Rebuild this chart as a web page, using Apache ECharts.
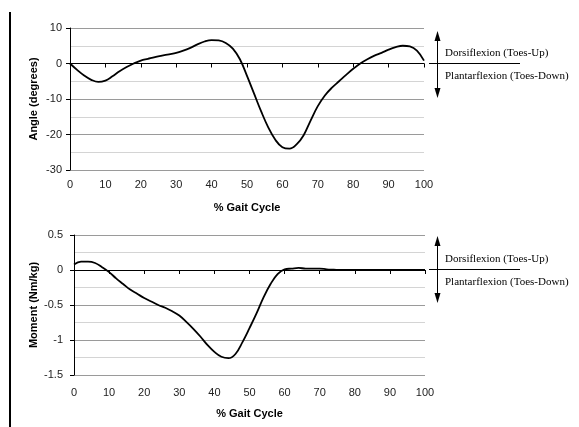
<!DOCTYPE html>
<html>
<head>
<meta charset="utf-8">
<script src="https://cdn.jsdelivr.net/npm/echarts@6/dist/echarts.min.js"></script>
<style>
  html, body { margin: 0; padding: 0; background: #fff; }
  #main { width: 579px; height: 427px; }
</style>
</head>
<body>
<div id="main"></div>
<script>
// % gait cycle, every 2%
var gaitPct = [0, 2, 4, 6, 8, 10, 12, 14, 16, 18, 20, 22, 24, 26, 28, 30, 32, 34, 36, 38, 40,
  42, 44, 46, 48, 50, 52, 54, 56, 58, 60, 62, 64, 66, 68, 70, 72, 74, 76, 78, 80,
  82, 84, 86, 88, 90, 92, 94, 96, 98, 100]
// ankle angle (degrees)
var ankleAngle = [0, -1.8, -3.4, -4.6, -5.2, -4.8, -3.6, -2.2, -1.0, 0.0, 0.8, 1.3, 1.8, 2.2, 2.6, 3.0, 3.6, 4.4, 5.4, 6.2, 6.6,
  6.5, 5.8, 4.2, 1.2, -3.5, -8.5, -13.5, -18.0, -21.5, -23.6, -24.0, -22.8, -20.2, -16.0, -12.0, -9.0, -6.8, -5.0, -3.2, -1.5,
  0.0, 1.2, 2.2, 3.0, 3.9, 4.6, 5.0, 4.8, 3.6, 0.8]
// ankle moment (Nm/kg)
var ankleMoment = [0.08, 0.12, 0.12, 0.10, 0.04, -0.03, -0.12, -0.20, -0.28, -0.34, -0.40, -0.45, -0.50, -0.54, -0.59, -0.65, -0.74, -0.84, -0.95, -1.07, -1.17,
  -1.24, -1.26, -1.20, -1.03, -0.83, -0.62, -0.39, -0.20, -0.06, 0.01, 0.02, 0.03, 0.02, 0.02, 0.02, 0.01, 0.005, 0, 0, 0,
  0, 0, 0, 0, 0, 0, 0, 0, 0, 0]
var xTicks = [0, 10, 20, 30, 40, 50, 60, 70, 80, 90, 100]

var tickFont = { fontFamily: 'Liberation Sans, Arial', fontSize: 11, color: '#222' }
var nameFont = { fontFamily: 'Liberation Sans, Arial', fontSize: 11, fontWeight: 'bold', color: '#000' }

function pairs(ys) {
  return gaitPct.map(function (x, i) { return [x, ys[i]] })
}

// x axis pair for one grid: labels at the bottom, black line with ticks on zero
function xAxes(g, margin, gap) {
  return [
    {
      gridIndex: g, type: 'value', position: 'bottom',
      min: xTicks[0], max: xTicks[xTicks.length - 1], interval: 10,
      axisLine: { show: false, onZero: false }, axisTick: { show: false },
      axisLabel: Object.assign({ margin: margin }, tickFont),
      splitLine: { show: false },
      name: '% Gait Cycle', nameLocation: 'middle', nameGap: gap, nameTextStyle: nameFont
    },
    {
      gridIndex: g, type: 'value', position: 'top',
      min: xTicks[0], max: xTicks[xTicks.length - 1], interval: 10,
      axisLine: { show: true, onZero: true, lineStyle: { color: '#000', width: 1 } },
      axisTick: { show: true, inside: true, length: 4, lineStyle: { color: '#000' } },
      axisLabel: { show: false }, splitLine: { show: false }
    }
  ]
}

function yAxis(g, min, max, step, name, margin, gap) {
  return {
    gridIndex: g, type: 'value', min: min, max: max, interval: step,
    axisLine: { show: true, onZero: false, lineStyle: { color: '#000' } },
    axisTick: { show: true, length: 4, lineStyle: { color: '#000' } },
    axisLabel: Object.assign({ margin: margin }, tickFont),
    splitLine: { show: true, lineStyle: { color: '#9a9a9a' } },
    minorTick: { show: false, splitNumber: 2 },
    minorSplitLine: { show: true, lineStyle: { color: '#d4d4d4' } },
    name: name, nameLocation: 'middle', nameGap: gap, nameMoveOverlap: false, nameTextStyle: nameFont
  }
}

function arrowNote(y0, yTop, yBot) {
  var f = { fontFamily: 'Liberation Serif, Times New Roman', fontSize: 11, fill: '#000' }
  return [
    { type: 'line', shape: { x1: 429, y1: y0 + 0.5, x2: 520, y2: y0 + 0.5 }, style: { stroke: '#000', lineWidth: 1 } },
    { type: 'line', shape: { x1: 437.5, y1: yTop + 6, x2: 437.5, y2: yBot - 6 }, style: { stroke: '#000', lineWidth: 1 } },
    { type: 'polygon', shape: { points: [[437.5, yTop], [434.5, yTop + 10], [440.5, yTop + 10]] }, style: { fill: '#000' } },
    { type: 'polygon', shape: { points: [[437.5, yBot], [434.5, yBot - 10], [440.5, yBot - 10]] }, style: { fill: '#000' } },
    { type: 'text', x: 445, y: y0 - 10, style: Object.assign({ text: 'Dorsiflexion (Toes-Up)', verticalAlign: 'middle' }, f) },
    { type: 'text', x: 445, y: y0 + 13, style: Object.assign({ text: 'Plantarflexion (Toes-Down)', verticalAlign: 'middle' }, f) }
  ]
}

var myChart = echarts.init(document.getElementById('main'))
var option = {
  animation: false,
  backgroundColor: '#fff',
  grid: [
    { left: 70, top: 28, width: 354, height: 142 },
    { left: 74, top: 235, width: 351, height: 140 }
  ],
  xAxis: xAxes(0, 9, 32).concat(xAxes(1, 12, 33)),
  yAxis: [
    yAxis(0, -30, 10, 10, 'Angle (degrees)', 8, 31),
    yAxis(1, -1.5, 0.5, 0.5, 'Moment (Nm/kg)', 11, 35)
  ],
  series: [
    {
      type: 'line', xAxisIndex: 0, yAxisIndex: 0, data: pairs(ankleAngle),
      smooth: 0.4, showSymbol: false, lineStyle: { color: '#000', width: 1.8 }
    },
    {
      type: 'line', xAxisIndex: 2, yAxisIndex: 1, data: pairs(ankleMoment),
      smooth: 0.4, showSymbol: false, lineStyle: { color: '#000', width: 1.8 }
    }
  ],
  graphic: [
    { type: 'rect', shape: { x: 9, y: 12, width: 2, height: 415 }, style: { fill: '#000' } }
  ].concat(arrowNote(63, 31, 98), arrowNote(269, 236, 303))
}
myChart.setOption(option)
</script>
</body>
</html>
